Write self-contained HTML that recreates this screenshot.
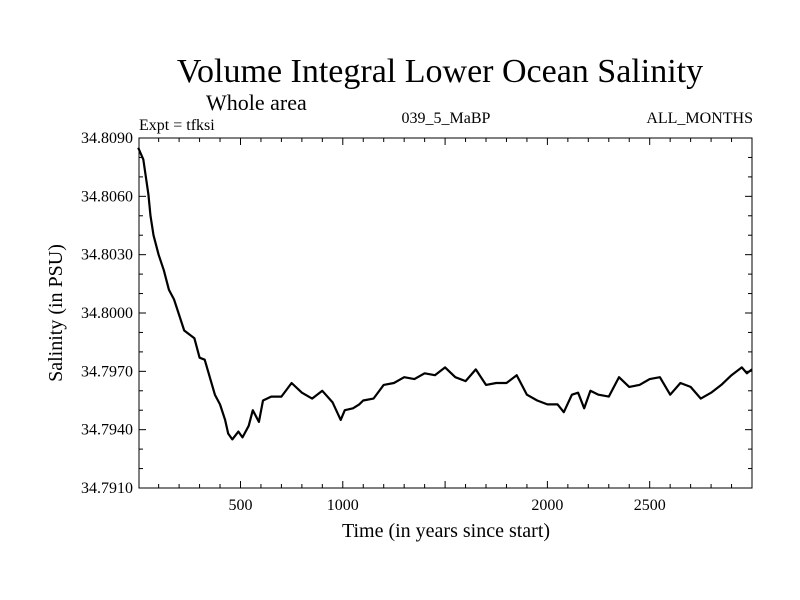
<!DOCTYPE html>
<html><head><meta charset="utf-8"><style>body{margin:0;background:#fff}svg{display:block;font-family:"Liberation Serif",serif}</style></head>
<body>
<svg id="chart" width="800" height="600" xmlns="http://www.w3.org/2000/svg">
<text x="440" y="82" font-size="34" text-anchor="middle">Volume Integral Lower Ocean Salinity</text>
<text x="206" y="110" font-size="22">Whole area</text>
<text x="139" y="130" font-size="16">Expt = tfksi</text>
<text x="446" y="123" font-size="16" text-anchor="middle">039_5_MaBP</text>
<text x="753" y="123" font-size="16" text-anchor="end">ALL_MONTHS</text>
<text transform="translate(62,313) rotate(-90)" font-size="20" text-anchor="middle">Salinity (in PSU)</text>
<text x="446" y="537" font-size="20" text-anchor="middle">Time (in years since start)</text>
<g id="axes"></g>
<path id="line" fill="none" stroke="#000" stroke-width="2.2" stroke-linejoin="round"/>
<rect x="139" y="138" width="613" height="350" fill="none" stroke="#000" stroke-width="1"/>
</svg>
<script>
const years=[0,25,50,60,75,100,125,150,175,200,225,250,275,300,325,350,375,400,425,440,460,490,510,540,560,590,610,650,700,750,800,850,900,950,990,1010,1050,1080,1100,1150,1200,1250,1300,1350,1400,1450,1500,1550,1600,1650,1700,1750,1800,1850,1900,1950,2000,2050,2080,2120,2150,2180,2210,2250,2300,2350,2400,2450,2500,2550,2600,2650,2700,2750,2800,2850,2900,2950,2975,3000];
const salinity=[34.8085,34.8079,34.8061,34.8050,34.8040,34.8030,34.8022,34.8012,34.8007,34.7999,34.7991,34.7989,34.7987,34.7977,34.7976,34.7967,34.7958,34.7953,34.7945,34.7938,34.7935,34.7939,34.7936,34.7942,34.7950,34.7944,34.7955,34.7957,34.7957,34.7964,34.7959,34.7956,34.7960,34.7954,34.7945,34.7950,34.7951,34.7953,34.7955,34.7956,34.7963,34.7964,34.7967,34.7966,34.7969,34.7968,34.7972,34.7967,34.7965,34.7971,34.7963,34.7964,34.7964,34.7968,34.7958,34.7955,34.7953,34.7953,34.7949,34.7958,34.7959,34.7951,34.7960,34.7958,34.7957,34.7967,34.7962,34.7963,34.7966,34.7967,34.7958,34.7964,34.7962,34.7956,34.7959,34.7963,34.7968,34.7972,34.7969,34.7971];
const xTicks=[500,1000,2000,2500];
const yTicks=[34.7910,34.7940,34.7970,34.8000,34.8030,34.8060,34.8090];
const xMin=4,xMax=3000,yMin=34.7910,yMax=34.8090;
const L=139,R=752,T=138,B=488;
const sx=v=>L+(v-xMin)/(xMax-xMin)*(R-L);
const sy=v=>B-(v-yMin)/(yMax-yMin)*(B-T);
const NS='http://www.w3.org/2000/svg';
const g=document.getElementById('axes');
function ln(x1,y1,x2,y2,name){const e=document.createElementNS(NS,'line');e.setAttribute('x1',x1);e.setAttribute('y1',y1);e.setAttribute('x2',x2);e.setAttribute('y2',y2);e.setAttribute('stroke','#000');


g.appendChild(e);}
function tx(x,y,s,anchor,name){const e=document.createElementNS(NS,'text');e.setAttribute('x',x);e.setAttribute('y',y);e.setAttribute('font-size','16');e.setAttribute('text-anchor',anchor);e.textContent=s;


g.appendChild(e);}
for(let v=100;v<3000;v+=100){const big=v%500===0;const x=sx(v);const l=big?7:4;ln(x,B,x,B-l,'x-tick');ln(x,T,x,T+l,'x-tick');}
xTicks.forEach(v=>tx(sx(v),B+22,String(v),'middle','x-tick-label'));
for(let i=0;i<=18;i++){const v=yMin+i*0.001;const y=sy(v);const big=i%3===0;const l=big?7:4;ln(L,y,L+l,y,'y-tick');ln(R,y,R-l,y,'y-tick');}
yTicks.forEach(v=>tx(L-6,sy(v)+5,v.toFixed(4),'end','y-tick-label'));
document.getElementById('line').setAttribute('d',years.map((y,i)=>(i?'L':'M')+sx(y).toFixed(1)+','+sy(salinity[i]).toFixed(1)).join(''));
</script>
</body></html>
